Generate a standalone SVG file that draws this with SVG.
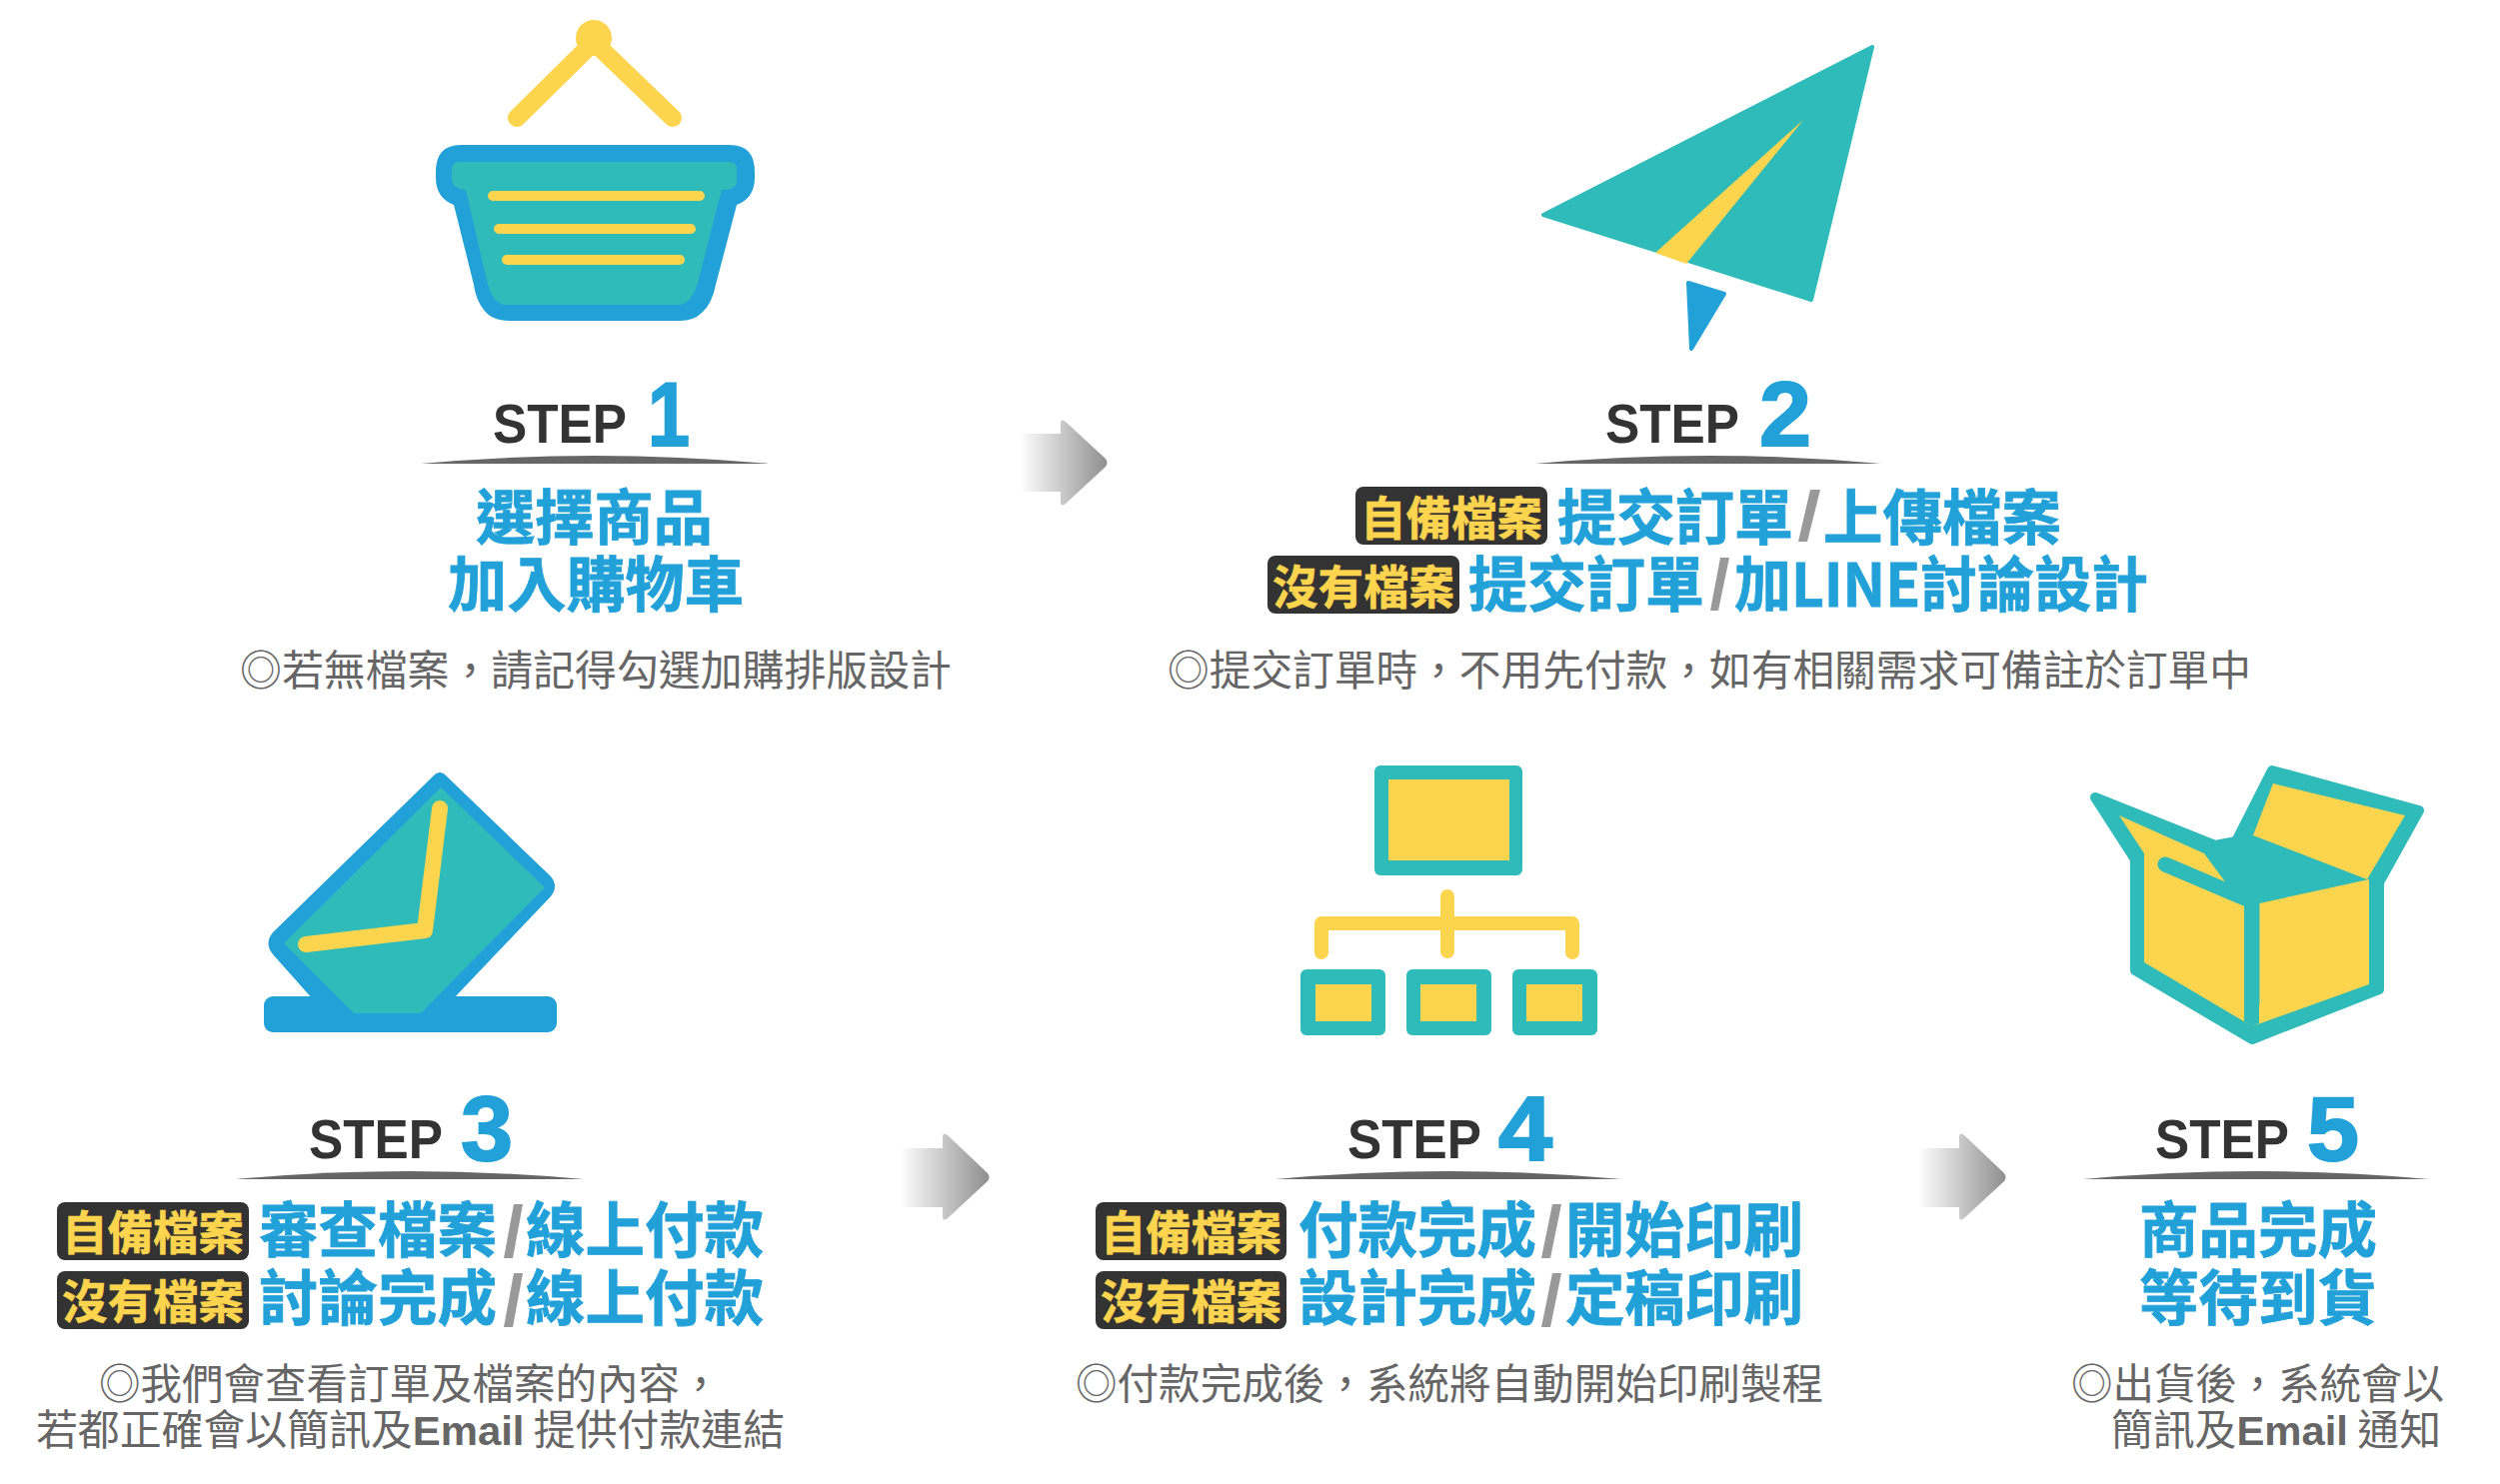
<svg xmlns="http://www.w3.org/2000/svg" width="2501" height="1485" viewBox="0 0 2501 1485">
<style>
text{font-family:"Noto Sans CJK TC","Liberation Sans",sans-serif}
.st{font-family:"Liberation Sans",sans-serif;font-weight:700;font-size:55px;fill:#333}
.n{font-family:"Liberation Sans",sans-serif;font-weight:700;font-size:90px;fill:#22a1d9;stroke:#22a1d9;stroke-width:2}
.h{font-weight:700;font-size:60px;fill:#22a1d9;stroke:#22a1d9;stroke-width:.8}
.bt{font-weight:700;font-size:46px;fill:#fdd44e;stroke:#fdd44e;stroke-width:.6}
.d{font-size:41.5px;fill:#666}
.d tspan{font-family:"Liberation Sans",sans-serif;font-weight:700}
.b{fill:#333}
.u{fill:#666}
.t{fill:#2fbbb9}
.y{fill:#fdd44e}
.bl{fill:#22a1d9}
.sl{fill:#999}
.ly{fill:none;stroke:#fdd44e;stroke-linecap:round;stroke-linejoin:round}
</style>
<defs>
<linearGradient id="ag"><stop offset="0" stop-color="#fff"/><stop offset="1" stop-color="#8f8f8f"/></linearGradient>
</defs>
<rect width="2501" height="1485" fill="#fff"/>

<g id="connectors">
<path fill="url(#ag)" d="M1020,434H1061V424Q1061,418 1066,422L1106,459Q1109,463 1106,467L1066,504Q1061,508 1061,502V492H1020Z"/>
<path fill="url(#ag)" d="M900,1149H943V1138Q943,1132 948,1136L988,1174Q991,1178 988,1182L948,1219Q943,1223 943,1217V1208H900Z"/>
<path fill="url(#ag)" d="M1919,1149H1960V1138Q1960,1132 1965,1136L2005,1174Q2008,1178 2005,1182L1965,1219Q1960,1223 1960,1217V1208H1919Z"/>
</g>

<g id="step1">
<g class="ly" stroke-width="18"><path d="M517,118L594,42L673,118"/></g>
<circle class="y" cx="594" cy="38" r="18"/>
<path class="bl" d="M461,145H730Q755,145 755,172V178Q755,198 737,205L716,285Q712,305 702,313Q694,321 680,321H510Q492,321 484,310Q476,300 474,285L454,205Q436,198 436,178V172Q436,145 461,145Z"/>
<path class="t" d="M460,162H730Q737,162 737,170V182Q737,190 722,190L700,275Q694,305 678,305H507Q494,305 488,285L466,190Q452,188 452,180V170Q452,162 460,162Z"/>
<g class="ly" stroke-width="10"><path d="M493,196H700M499,229H691M507,260H680"/></g>
<text class="st" x="493" y="443" textLength="134" lengthAdjust="spacingAndGlyphs">STEP</text>
<text class="n" x="648" y="446" textLength="42" lengthAdjust="spacingAndGlyphs">1</text>
<path class="u" d="M421,464Q595,448 769,464Z"/>
<text class="h" x="476" y="540" textLength="237" lengthAdjust="spacingAndGlyphs">選擇商品</text>
<text class="h" x="448" y="607" textLength="296" lengthAdjust="spacingAndGlyphs">加入購物車</text>
<text class="d" x="240" y="686" textLength="712" lengthAdjust="spacingAndGlyphs">◎若無檔案，請記得勾選加購排版設計</text>
</g>

<g id="step2">
<path class="t" stroke="#2fbbb9" stroke-width="4" stroke-linejoin="round" d="M1873,47L1544,215L1812,300Z"/>
<path class="y" d="M1804,120L1656,253L1687,264Z"/>
<path class="bl" stroke="#22a1d9" stroke-width="4" stroke-linejoin="round" d="M1689,283L1725,294L1692,349Z"/>
<text class="st" x="1606" y="443" textLength="134" lengthAdjust="spacingAndGlyphs">STEP</text>
<text class="n" x="1760" y="446" textLength="52" lengthAdjust="spacingAndGlyphs">2</text>
<path class="u" d="M1536,464Q1709,448 1882,464Z"/>
<rect class="b" x="1356" y="487" width="192" height="58" rx="8"/>
<text class="bt" x="1361" y="535" textLength="182" lengthAdjust="spacingAndGlyphs">自備檔案</text>
<text class="h" x="1558" y="540" textLength="236" lengthAdjust="spacingAndGlyphs">提交訂單</text>
<path class="sl" d="M1811,490L1821,490L1808,542L1799,542Z"/>
<text class="h" x="1824" y="540" textLength="238" lengthAdjust="spacingAndGlyphs">上傳檔案</text>
<rect class="b" x="1268" y="556" width="192" height="58" rx="8"/>
<text class="bt" x="1273" y="604" textLength="182" lengthAdjust="spacingAndGlyphs">沒有檔案</text>
<text class="h" x="1469" y="607" textLength="236" lengthAdjust="spacingAndGlyphs">提交訂單</text>
<path class="sl" d="M1721,558L1730,558L1719,611L1711,611Z"/>
<text class="h" x="1735" y="607" textLength="414" lengthAdjust="spacingAndGlyphs">加LINE討論設計</text>
<text class="d" x="1168" y="686" textLength="1084" lengthAdjust="spacingAndGlyphs">◎提交訂單時，不用先付款，如有相關需求可備註於訂單中</text>
</g>

<g id="step3">
<rect class="bl" x="264" y="997" width="293" height="36" rx="9"/>
<path class="bl" d="M433,777Q440,769 447,777L551,877Q559,887 551,897L453,1000H313L273,955Q264,944 273,933Z"/>
<path class="t" d="M441,788L545,888L421,1014H354L284,944Z"/>
<path class="ly" stroke-width="16" d="M440,809L425,931L306,945"/>
<text class="st" x="309" y="1159" textLength="134" lengthAdjust="spacingAndGlyphs">STEP</text>
<text class="n" x="461" y="1161" textLength="52" lengthAdjust="spacingAndGlyphs">3</text>
<path class="u" d="M236,1180Q410,1164 584,1180Z"/>
<rect class="b" x="57" y="1203" width="192" height="58" rx="8"/>
<text class="bt" x="62" y="1250" textLength="182" lengthAdjust="spacingAndGlyphs">自備檔案</text>
<text class="h" x="259" y="1253" textLength="238" lengthAdjust="spacingAndGlyphs">審查檔案</text>
<path class="sl" d="M514,1205L523,1205L513,1259L504,1259Z"/>
<text class="h" x="526" y="1253" textLength="238" lengthAdjust="spacingAndGlyphs">線上付款</text>
<rect class="b" x="57" y="1272" width="192" height="58" rx="8"/>
<text class="bt" x="62" y="1319" textLength="182" lengthAdjust="spacingAndGlyphs">沒有檔案</text>
<text class="h" x="259" y="1321" textLength="238" lengthAdjust="spacingAndGlyphs">討論完成</text>
<path class="sl" d="M514,1274L523,1274L513,1328L504,1328Z"/>
<text class="h" x="526" y="1321" textLength="238" lengthAdjust="spacingAndGlyphs">線上付款</text>
<text class="d" x="99" y="1400">◎我們會查看訂單及檔案的內容，</text>
<text class="d" x="36" y="1446" textLength="749" lengthAdjust="spacingAndGlyphs">若都正確會以簡訊及<tspan>Email</tspan> 提供付款連結</text>
</g>

<g id="step4">
<rect class="t" x="1375" y="766" width="148" height="110" rx="6"/>
<rect class="y" x="1389" y="780" width="121" height="81"/>
<g class="ly" stroke-width="14"><path d="M1322,953V924H1573V953M1448,897V952"/></g>
<g class="t"><rect x="1301" y="970" width="85" height="66" rx="6"/><rect x="1407" y="970" width="85" height="66" rx="6"/><rect x="1513" y="970" width="85" height="66" rx="6"/></g>
<g class="y"><rect x="1316" y="985" width="56" height="37"/><rect x="1421" y="985" width="56" height="37"/><rect x="1527" y="985" width="56" height="37"/></g>
<text class="st" x="1348" y="1159" textLength="134" lengthAdjust="spacingAndGlyphs">STEP</text>
<text class="n" x="1499" y="1161" textLength="54" lengthAdjust="spacingAndGlyphs">4</text>
<path class="u" d="M1276,1180Q1449,1164 1622,1180Z"/>
<rect class="b" x="1096" y="1203" width="191" height="58" rx="8"/>
<text class="bt" x="1101" y="1250" textLength="181" lengthAdjust="spacingAndGlyphs">自備檔案</text>
<text class="h" x="1299" y="1253" textLength="238" lengthAdjust="spacingAndGlyphs">付款完成</text>
<path class="sl" d="M1553,1205L1562,1205L1551,1259L1542,1259Z"/>
<text class="h" x="1566" y="1253" textLength="238" lengthAdjust="spacingAndGlyphs">開始印刷</text>
<rect class="b" x="1096" y="1272" width="191" height="58" rx="8"/>
<text class="bt" x="1101" y="1319" textLength="181" lengthAdjust="spacingAndGlyphs">沒有檔案</text>
<text class="h" x="1299" y="1321" textLength="238" lengthAdjust="spacingAndGlyphs">設計完成</text>
<path class="sl" d="M1553,1274L1562,1274L1551,1328L1542,1328Z"/>
<text class="h" x="1566" y="1321" textLength="238" lengthAdjust="spacingAndGlyphs">定稿印刷</text>
<text class="d" x="1076" y="1400" textLength="748" lengthAdjust="spacingAndGlyphs">◎付款完成後，系統將自動開始印刷製程</text>
</g>

<g id="step5">
<path class="t" stroke="#2fbbb9" stroke-width="10" stroke-linejoin="round" d="M2096,798L2216,846L2237,842L2273,771L2420,811L2380,883V990L2253,1040L2136,971V860Z"/>
<path class="y" d="M2120,816L2205,854L2228,885L2245,897V1022L2253,1027L2145,963V854Z"/>
<path class="y" d="M2274,784L2406,816L2368,880L2254,836Z"/>
<path class="y" d="M2260,904L2370,880V985L2253,1027L2260,1024Z"/>
<path fill="none" stroke="#2fbbb9" stroke-width="15" stroke-linecap="round" stroke-linejoin="round" d="M2166,865L2253,902V1004"/>
<text class="st" x="2156" y="1159" textLength="134" lengthAdjust="spacingAndGlyphs">STEP</text>
<text class="n" x="2308" y="1161" textLength="52" lengthAdjust="spacingAndGlyphs">5</text>
<path class="u" d="M2084,1180Q2257,1164 2430,1180Z"/>
<text class="h" x="2140" y="1253" textLength="238" lengthAdjust="spacingAndGlyphs">商品完成</text>
<text class="h" x="2140" y="1321" textLength="238" lengthAdjust="spacingAndGlyphs">等待到貨</text>
<text class="d" x="2072" y="1400" textLength="373" lengthAdjust="spacingAndGlyphs">◎出貨後，系統會以</text>
<text class="d" x="2112" y="1446" textLength="330" lengthAdjust="spacingAndGlyphs">簡訊及<tspan>Email</tspan> 通知</text>
</g>
</svg>
